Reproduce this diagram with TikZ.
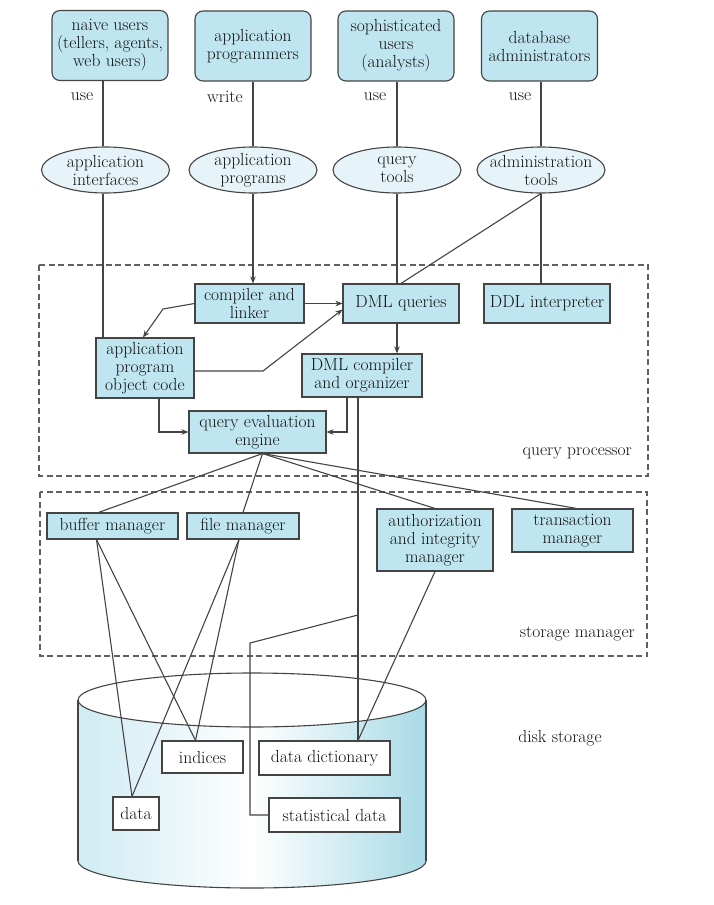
\documentclass[tikz,border=0pt]{standalone}
\usetikzlibrary{arrows.meta,shapes.geometric}
\definecolor{boxblue}{HTML}{BFE5F0}
\definecolor{ellblue}{HTML}{E6F4F9}
\definecolor{edge}{HTML}{444444}
\definecolor{cylL}{HTML}{CFEBF3}
\definecolor{cylR}{HTML}{A8DAE6}
\definecolor{txt}{HTML}{111111}
\begin{document}
\begin{tikzpicture}[x=1pt,y=-1pt,
  every node/.style={font=\fontsize{17.5}{18}\selectfont, text=txt},
  actor/.style={draw=edge, fill=boxblue, rounded corners=8pt, align=center, inner sep=0pt, line width=1.1pt, minimum width=116pt, minimum height=70pt},
  tool/.style={ellipse, draw=edge, fill=ellblue, inner sep=0pt, line width=1.1pt, minimum width=128pt, minimum height=46pt},
  comp/.style={draw=edge, fill=boxblue, align=center, inner sep=0pt, line width=1.1pt},
  store/.style={draw=edge, fill=white, align=center, inner sep=0pt, line width=1.1pt},
  wire/.style={draw=edge, line width=1.1pt},
  arr/.style={wire, -{Stealth[length=7pt,width=5.5pt]}},
  region/.style={draw=edge!85, line width=1.1pt, dash pattern=on 6pt off 3.5pt},
  tag/.style={inner sep=0pt}
]
\fill[white] (0,0) rectangle (714,905);
\useasboundingbox (0,0) rectangle (714,905);

% disk cylinder
\shade[left color=cylL, right color=cylR, middle color=white] (78,700) rectangle (426,861);
\shade[left color=cylL, right color=cylR, middle color=white] (252,861) ellipse [x radius=174, y radius=27];
\draw[wire, fill=white] (252,700) ellipse [x radius=174, y radius=27];
\draw[wire] (78,700) -- (78,861);
\draw[wire] (426,700) -- (426,861);
\begin{scope}
  \clip (60,861) rectangle (440,900);
  \draw[wire] (252,861) ellipse [x radius=174, y radius=27];
\end{scope}

% regions
\draw[region] (39,265) rectangle (648,476);
\draw[region] (40,492) rectangle (647,656);

% users
\node[actor] (naive) at (110,45.5) {naive users\\(tellers, agents,\\web users)};
\node[actor] (aprog) at (253,46) {application\\programmers};
\node[actor] (soph) at (396,46) {sophisticated\\users\\(analysts)};
\node[actor] (dba) at (539.5,46) {database\\administrators};

\node[tag] (use1) at (82,97) {use};
\node[tag] (write) at (225,97) {write};
\node[tag] (use2) at (375,97) {use};
\node[tag] (use3) at (520,97) {use};

% tools
\node[tool, label={[align=center]center:{application\\interfaces}}] (ai) at (105.5,170) {};
\node[tool, label={[align=center]center:{application\\programs}}] (apg) at (253,170) {};
\node[tool, label={[align=center]center:{query\\tools}}] (qt) at (397,170) {};
\node[tool, label={[align=center]center:{administration\\tools}}] (at) at (541,170) {};

% query processor
\node[comp, minimum width=109pt, minimum height=39pt] (cl) at (249.5,303.5) {compiler and\\linker};
\node[comp, minimum width=116pt, minimum height=39pt] (dq) at (401,303.5) {DML queries};
\node[comp, minimum width=126pt, minimum height=39pt] (ddl) at (547,303.5) {DDL interpreter};
\node[comp, minimum width=98pt, minimum height=60pt] (apoc) at (145,368) {application\\program\\object code};
\node[comp, minimum width=120pt, minimum height=43pt] (dmlc) at (362,375.5) {DML compiler\\and organizer};
\node[comp, minimum width=137pt, minimum height=42pt] (qe) at (257.5,432) {query evaluation\\engine};
\node[tag, anchor=east] (qp) at (632,453) {query processor};

% storage manager
\node[comp, minimum width=131pt, minimum height=26pt] (bm) at (112.5,526) {buffer manager};
\node[comp, minimum width=112pt, minimum height=26pt] (fm) at (243,526) {file manager};
\node[comp, minimum width=116pt, minimum height=62pt] (aim) at (435,540) {authorization\\and integrity\\manager};
\node[comp, minimum width=121pt, minimum height=43pt] (tm) at (572.5,530.5) {transaction\\manager};
\node[tag, anchor=east] (sm) at (635,634) {storage manager};
\node[tag] (ds) at (560,738) {disk storage};

% disk contents
\node[store, minimum width=81pt, minimum height=32pt] (ind) at (202.5,757) {indices};
\node[store, minimum width=131pt, minimum height=34pt] (dd) at (324.5,758) {data dictionary};
\node[store, minimum width=46pt, minimum height=33pt] (data) at (136,813.5) {data};
\node[store, minimum width=131pt, minimum height=34pt] (stat) at (334.5,815) {statistical data};

% top connectors
\coordinate (x1) at (103,0);
\draw[wire] (naive.south -| x1) -- (ai.north -| x1);
\draw[wire] (ai.south -| x1) -- (apoc.north -| x1);
\draw[wire] (aprog.south) -- (apg.north);
\draw[arr] (apg.south) -- (apg.south |- cl.north);
\draw[wire] (qt.north |- soph.south) -- (qt.north);
\draw[wire] (qt.south) -- (qt.south |- dq.north);
\draw[wire] (at.north |- dba.south) -- (at.north);
\draw[wire] (at.south) -- (at.south |- ddl.north);
\draw[wire] (at.south) -- (dq.north);

% query processor connectors
\draw[arr] (cl.east) -- (dq.west);
\coordinate (b1) at (163,309);
\draw[arr] (cl.west) -- (b1) -- ([xshift=-2pt]apoc.north);
\coordinate (b2) at (263,371);
\draw[arr] (apoc.east |- b2) -- (b2) -- ([yshift=-6pt]dq.west);
\draw[arr] ([xshift=-4pt]dq.south) -- ([xshift=-4pt]dq.south |- dmlc.north);
\draw[arr] ([xshift=14pt]apoc.south) |- (qe.west);
\draw[arr] ([xshift=-15pt]dmlc.south) |- (qe.east);

% DML compiler to disk
\coordinate (split) at (358,615);
\coordinate (bend) at (250,643);
\draw[wire] (dmlc.south -| split) -- (dd.north -| split);
\draw[wire] (split) -- (bend) |- (stat.west);
\draw[wire] (aim.south) -- (dd.north -| split);

% query evaluation fan-out
\coordinate (qeb) at ([xshift=5pt]qe.south);
\draw[wire] (qeb) -- ([xshift=-14pt]bm.north);
\draw[wire] (qeb) -- (fm.north);
\draw[wire] (qeb) -- (aim.north);
\draw[wire] (qeb) -- ([xshift=4pt]tm.north);

% managers to files
\draw[wire] ([xshift=-16pt]bm.south) -- ([xshift=-4pt]data.north);
\draw[wire] ([xshift=-16pt]bm.south) -- ([xshift=-7pt]ind.north);
\draw[wire] ([xshift=-4pt]fm.south) -- ([xshift=-4pt]data.north);
\draw[wire] ([xshift=-4pt]fm.south) -- ([xshift=-7pt]ind.north);
\end{tikzpicture}
\end{document}
